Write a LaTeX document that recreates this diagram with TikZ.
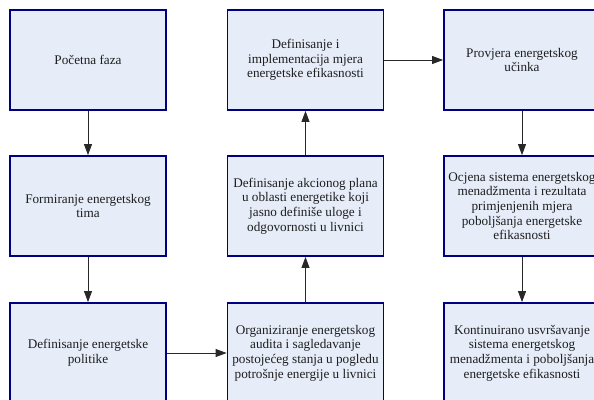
\documentclass[tikz,border=0pt]{standalone}
\usepackage{fontspec}
\setmainfont{Liberation Serif}
\usetikzlibrary{arrows.meta}
\definecolor{boxfill}{RGB}{230,236,248}
\definecolor{boxline}{RGB}{0,0,128}
\definecolor{txt}{RGB}{30,30,30}
\definecolor{arr}{RGB}{40,40,40}
\tikzset{
  stepbox/.style={draw=boxline, line width=1.8pt, fill=boxfill, minimum width=156pt, minimum height=100pt,
    inner sep=0pt, align=center, text=txt, font=\fontsize{13.2}{14.6}\selectfont},
  conn/.style={draw=arr, line width=0.8pt, -{Triangle[length=11pt,width=8pt]}}
}
\begin{document}
\begin{tikzpicture}[x=1pt,y=-1pt]
\useasboundingbox (0,0) rectangle (594,399);
\clip (0,0) rectangle (594,399);
\node[stepbox] (a1) at (88,60) {Početna faza};
\node[stepbox] (a2) at (88,206) {Formiranje energetskog\\tima};
\node[stepbox] (a3) at (88,353) {Definisanje energetske\\politike};
\node[stepbox] (b3) at (305.5,353) {Organiziranje energetskog\\audita i sagledavanje\\postojećeg stanja u pogledu\\potrošnje energije u livnici};
\node[stepbox] (b2) at (305.5,206) {Definisanje akcionog plana\\u oblasti energetike koji\\jasno definiše uloge i\\odgovornosti u livnici};
\node[stepbox] (b1) at (305.5,60) {Definisanje i\\implementacija mjera\\energetske efikasnosti};
\node[stepbox] (c1) at (522,60) {Provjera energetskog\\učinka};
\node[stepbox] (c2) at (522,206) {Ocjena sistema energetskog\\menadžmenta i rezultata\\primjenjenih mjera\\poboljšanja energetske\\efikasnosti};
\node[stepbox] (c3) at (522,353) {Kontinuirano usvršavanje\\sistema energetskog\\menadžmenta i poboljšanja\\energetske efikasnosti};
\draw[conn] (a1) -- (a2);
\draw[conn] (a2) -- (a3);
\draw[conn] (a3) -- (b3);
\draw[conn] (b3) -- (b2);
\draw[conn] (b2) -- (b1);
\draw[conn] (b1) -- (c1);
\draw[conn] (c1) -- (c2);
\draw[conn] (c2) -- (c3);
\end{tikzpicture}
\end{document}
